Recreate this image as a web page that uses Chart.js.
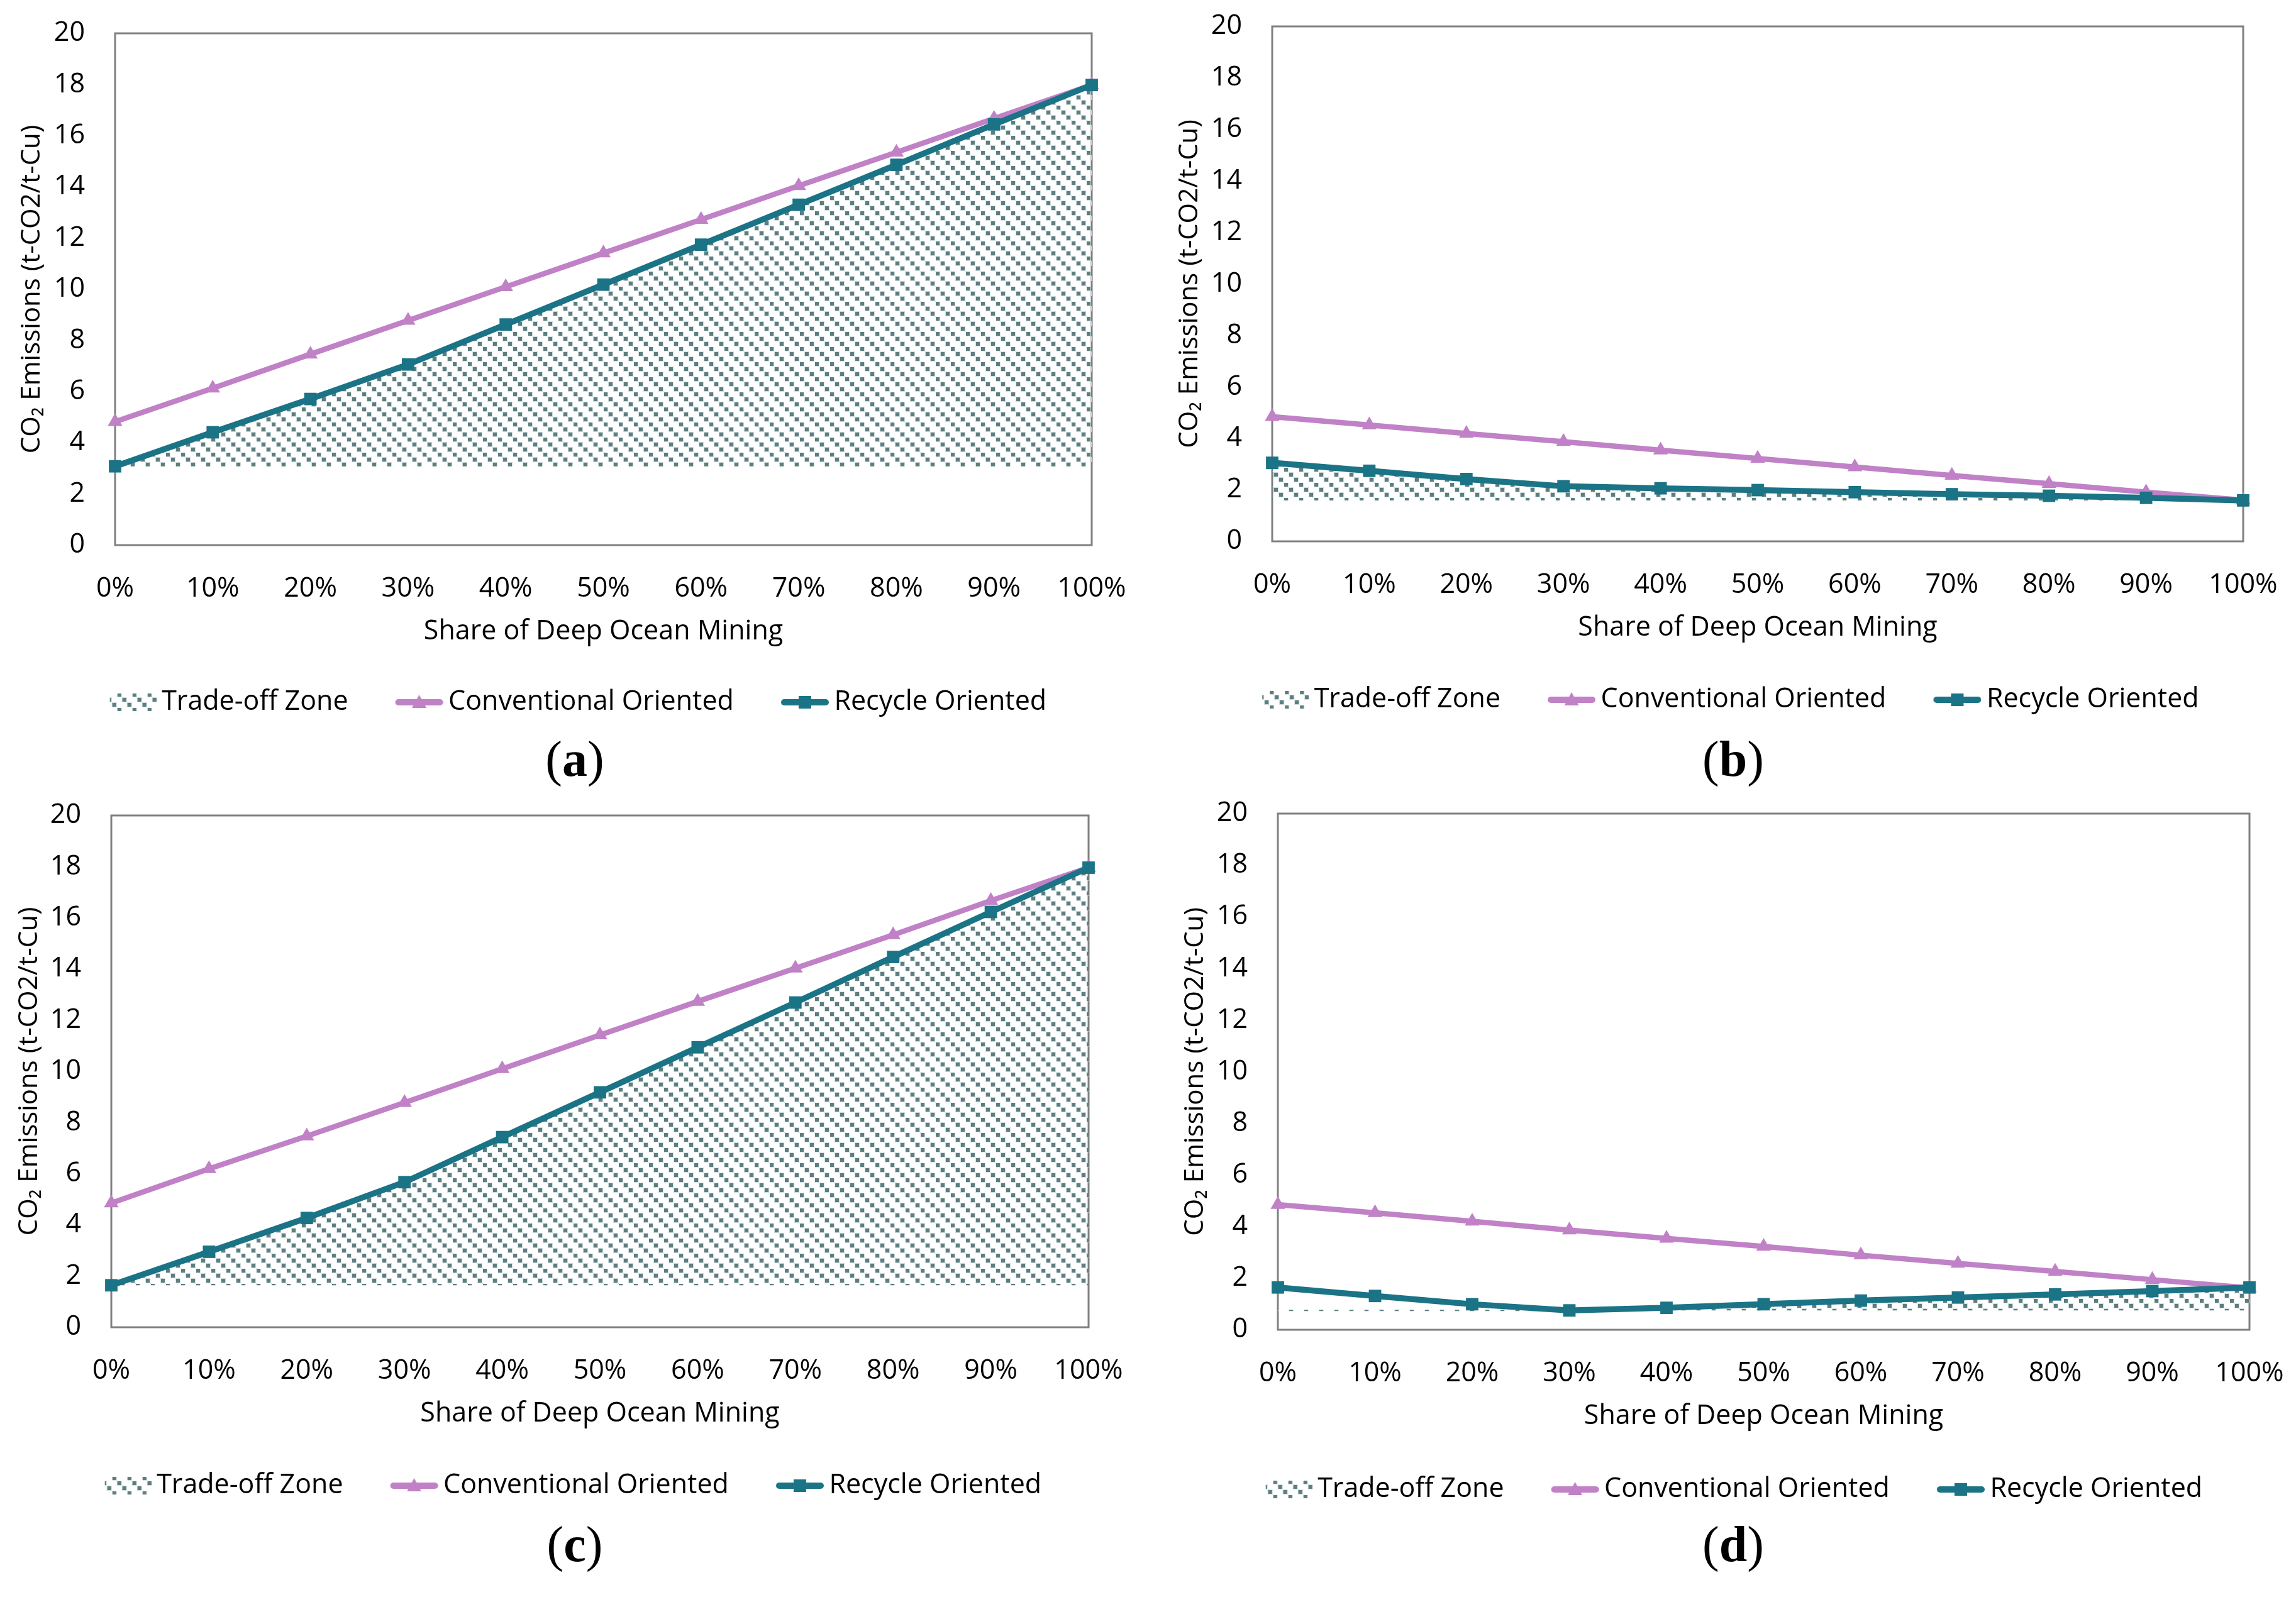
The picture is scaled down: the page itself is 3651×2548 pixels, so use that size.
<!DOCTYPE html>
<html>
<head>
<meta charset="utf-8">
<script src="https://cdn.jsdelivr.net/npm/chart.js@4.4.1/dist/chart.umd.min.js"></script>
<style>
html, body { margin: 0; padding: 0; background: #fff; overflow: hidden; }
body { width: 3651px; height: 2548px; position: relative; }
canvas { position: absolute; }
.caption {
    position: absolute;
    font-family: 'Liberation Serif', 'Times New Roman', serif;
    font-size: 80px;
    line-height: 1;
    color: #000;
    white-space: nowrap;
    transform: translate(-50%, -50%);
}
</style>
</head>
<body>
<canvas id="chartA"></canvas>
<canvas id="chartB"></canvas>
<canvas id="chartC"></canvas>
<canvas id="chartD"></canvas>
<div class="caption" id="capA">(<b>a</b>)</div>
<div class="caption" id="capB">(<b>b</b>)</div>
<div class="caption" id="capC">(<b>c</b>)</div>
<div class="caption" id="capD">(<b>d</b>)</div>
<script>
// x categories
const shareLabels = ['0%', '10%', '20%', '30%', '40%', '50%', '60%', '70%', '80%', '90%', '100%'];

// (a)
const conventionalA = [4.82, 6.13, 7.46, 8.78, 10.09, 11.41, 12.72, 14.04, 15.35, 16.67, 17.98];
const recycleA = [3.08, 4.41, 5.71, 7.06, 8.62, 10.18, 11.74, 13.30, 14.86, 16.44, 17.98];
// (b)
const conventionalB = [4.84, 4.52, 4.19, 3.87, 3.54, 3.22, 2.89, 2.56, 2.24, 1.91, 1.60];
const recycleB = [3.05, 2.74, 2.42, 2.14, 2.06, 1.99, 1.91, 1.83, 1.77, 1.69, 1.59];
// (c)
const conventionalC = [4.85, 6.19, 7.47, 8.78, 10.10, 11.42, 12.73, 14.03, 15.33, 16.67, 17.96];
const recycleC = [1.64, 2.95, 4.27, 5.67, 7.43, 9.18, 10.94, 12.69, 14.47, 16.23, 17.96];
// (d)
const conventionalD = [4.85, 4.53, 4.20, 3.86, 3.54, 3.23, 2.89, 2.57, 2.26, 1.94, 1.62];
const recycleD = [1.64, 1.31, 0.99, 0.75, 0.85, 0.99, 1.13, 1.25, 1.37, 1.50, 1.64];

// trade-off zone: upper edge and flat floor of each panel
const zoneTopA = recycleA;
const zoneTopB = recycleB;
const zoneTopC = recycleC;
const zoneTopD = [0.75, 0.75, 0.75, 0.75, 0.85, 0.99, 1.13, 1.25, 1.37, 1.50, 1.64];
const zoneFloors = [3.08, 1.59, 1.64, 0.75];

const PURPLE = '#c081c6';
const TEAL = '#1b7386';
const HATCH = '#5c7e80';
const HATCH_EDGE = '#cfdbdb';
const TICK_FONT = { family: "'Open Sans', 'Noto Sans', sans-serif", size: 43 };
const TEXT_FONT = { family: "'Open Sans', 'Noto Sans', sans-serif", size: 43 };
const YTITLE_FONT = { family: "'Open Sans', 'Noto Sans', sans-serif", size: 42 };

// where each panel sits on the page (px)
const panels = [
    { id: 'chartA', cap: 'capA', conv: conventionalA, rec: recycleA, zone: zoneTopA, floor: zoneFloors[0],
      canvas: { x: 0, y: 0, w: 1814, h: 1200 }, plot: { l: 183, r: 1736, t: 53, b: 867 },
      yTitleX: 51, xTitleY: 1005, legendY: 1117, capX: 914, capY: 1207 },
    { id: 'chartB', cap: 'capB', conv: conventionalB, rec: recycleB, zone: zoneTopB, floor: zoneFloors[1],
      canvas: { x: 1850, y: 0, w: 1788, h: 1200 }, plot: { l: 2023, r: 3567, t: 42, b: 861 },
      yTitleX: 1892, xTitleY: 999, legendY: 1113, capX: 2756, capY: 1207 },
    { id: 'chartC', cap: 'capC', conv: conventionalC, rec: recycleC, zone: zoneTopC, floor: zoneFloors[2],
      canvas: { x: 0, y: 1250, w: 1802, h: 1250 }, plot: { l: 177, r: 1731, t: 1297, b: 2111 },
      yTitleX: 47, xTitleY: 2249, legendY: 2363, capX: 914, capY: 2456 },
    { id: 'chartD', cap: 'capD', conv: conventionalD, rec: recycleD, zone: zoneTopD, floor: zoneFloors[3],
      canvas: { x: 1866, y: 1250, w: 1774, h: 1250 }, plot: { l: 2032, r: 3577, t: 1294, b: 2115 },
      yTitleX: 1901, xTitleY: 2253, legendY: 2369, capX: 2756, capY: 2456 }
];

function hatchTile() {
    const t = document.createElement('canvas');
    t.width = 24; t.height = 24;
    const g = t.getContext('2d');
    g.fillStyle = HATCH_EDGE;
    for (let i = 0; i < 3; i++) g.fillRect(i * 8 - 1, i * 8 - 1, 8, 8);
    g.fillRect(23, 23, 1, 1);
    g.fillStyle = HATCH;
    for (let i = 0; i < 3; i++) g.fillRect(i * 8, i * 8, 6, 6);
    return t;
}

// legend icons: drawn in the right part of an 86px wide image so they end close to the text
function zoneIcon() {
    const c = document.createElement('canvas');
    c.width = 86; c.height = 30;
    const g = c.getContext('2d');
    g.fillStyle = g.createPattern(hatchTile(), 'repeat');
    g.fillRect(12, 1, 74, 28);
    return c;
}

function lineIcon(color, marker) {
    const c = document.createElement('canvas');
    c.width = 86; c.height = 30;
    const g = c.getContext('2d');
    g.strokeStyle = color;
    g.fillStyle = color;
    g.lineWidth = 10;
    g.lineCap = 'round';
    g.beginPath();
    g.moveTo(15, 15);
    g.lineTo(81, 15);
    g.stroke();
    const cx = 48, cy = 15;
    g.beginPath();
    if (marker === 'triangle') {
        g.moveTo(cx, cy - 12);
        g.lineTo(cx + 11.5, cy + 9);
        g.lineTo(cx - 11.5, cy + 9);
        g.closePath();
    } else {
        g.rect(cx - 10, cy - 10, 20, 20);
    }
    g.fill();
    return c;
}

const frame = {
    id: 'frame',
    beforeDatasetsDraw(chart) {
        const { ctx, chartArea: a } = chart;
        ctx.save();
        ctx.strokeStyle = '#808080';
        ctx.lineWidth = 3;
        ctx.strokeRect(a.left, a.top, a.right - a.left, a.bottom - a.top);
        ctx.restore();
    }
};

const iconZone = zoneIcon();
const iconConv = lineIcon(PURPLE, 'triangle');
const iconRec = lineIcon(TEAL, 'rect');

// invisible tick marks carry the label offset (ticks.padding would also pad the plot top)
function hiddenTicks(len) {
    return { display: true, drawOnChartArea: false, drawTicks: true, tickLength: len, tickColor: 'rgba(0,0,0,0)' };
}

function makePanel(p) {
    const el = document.getElementById(p.id);
    el.width = p.canvas.w;
    el.height = p.canvas.h;
    el.style.left = p.canvas.x + 'px';
    el.style.top = p.canvas.y + 'px';
    el.style.width = p.canvas.w + 'px';
    el.style.height = p.canvas.h + 'px';

    const cap = document.getElementById(p.cap);
    cap.style.left = p.capX + 'px';
    cap.style.top = p.capY + 'px';

    const legendPad = 78;
    const lh = TEXT_FONT.size * 1.2;
    const xAxisH = p.legendY - p.plot.b - legendPad - TEXT_FONT.size / 2;
    const xTitlePad = p.plot.b + xAxisH - lh / 2 - p.xTitleY;
    const yAxisLeft = p.yTitleX - YTITLE_FONT.size * 0.6;
    const yAxisW = p.plot.l - yAxisLeft;
    const rightW = p.canvas.x + p.canvas.w - p.plot.r;
    const wantBottom = p.plot.b - p.canvas.y;

    const ctx = el.getContext('2d');
    const pattern = ctx.createPattern(hatchTile(), 'repeat');

    const chart = new Chart(ctx, {
        type: 'line',
        data: {
            labels: shareLabels,
            datasets: [{
                label: 'Recycle Oriented',
                data: p.rec,
                borderColor: TEAL,
                backgroundColor: TEAL,
                borderWidth: 9.5,
                pointStyle: 'rect',
                pointRadius: 14,
                pointBorderWidth: 0,
                tension: 0,
                fill: false,
                clip: false
            }, {
                label: 'Conventional Oriented',
                data: p.conv,
                borderColor: PURPLE,
                backgroundColor: PURPLE,
                borderWidth: 8.5,
                pointStyle: 'triangle',
                pointRadius: 13.5,
                pointBorderWidth: 0,
                tension: 0,
                fill: false,
                clip: false
            }, {
                label: 'Trade-off Zone',
                data: p.zone,
                borderColor: pattern,
                backgroundColor: pattern,
                borderWidth: 2,
                pointRadius: 0,
                tension: 0,
                fill: { value: p.floor }
            }]
        },
        options: {
            responsive: false,
            animation: false,
            devicePixelRatio: 1,
            layout: {
                padding: {
                    left: yAxisLeft - p.canvas.x,
                    right: 0,
                    top: p.plot.t - p.canvas.y,
                    bottom: p.canvas.h - wantBottom - xAxisH - 130
                }
            },
            plugins: {
                tooltip: { enabled: false },
                legend: {
                    position: 'bottom',
                    onClick: null,
                    labels: {
                        usePointStyle: true,
                        pointStyleWidth: 60,
                        padding: legendPad,
                        color: '#000',
                        font: TEXT_FONT,
                        generateLabels: () => [
                            { text: 'Trade-off Zone', pointStyle: iconZone, fontColor: '#000', hidden: false, lineWidth: 0, datasetIndex: 2 },
                            { text: 'Conventional Oriented', pointStyle: iconConv, fontColor: '#000', hidden: false, lineWidth: 0, datasetIndex: 1 },
                            { text: 'Recycle Oriented', pointStyle: iconRec, fontColor: '#000', hidden: false, lineWidth: 0, datasetIndex: 0 }
                        ]
                    }
                }
            },
            scales: {
                x: {
                    offset: false,
                    grid: hiddenTicks(44),
                    border: { display: false },
                    ticks: { font: TICK_FONT, color: '#000', padding: 0, maxRotation: 0, autoSkip: false },
                    title: {
                        display: true,
                        text: 'Share of Deep Ocean Mining',
                        font: TEXT_FONT,
                        color: '#000',
                        padding: { top: 0, bottom: xTitlePad }
                    },
                    afterFit: s => { s.height = xAxisH; }
                },
                y: {
                    min: 0,
                    max: 20,
                    grid: hiddenTicks(48),
                    border: { display: false },
                    ticks: { stepSize: 2, font: TICK_FONT, color: '#000', padding: 0 },
                    title: {
                        display: true,
                        text: 'CO\u2082 Emissions (t-CO2/t-Cu)',
                        font: YTITLE_FONT,
                        color: '#000',
                        padding: 0
                    },
                    afterFit: s => { s.width = yAxisW; }
                },
                y2: {
                    position: 'right',
                    grid: { display: false, drawTicks: false },
                    border: { display: false },
                    ticks: { display: false },
                    afterFit: s => { s.width = rightW; }
                }
            }
        },
        plugins: [frame]
    });

    // nudge the bottom padding so the plot bottom lands where it should
    const diff = chart.chartArea.bottom - wantBottom;
    if (Math.abs(diff) > 0.5) {
        chart.options.layout.padding.bottom += diff;
        chart.update();
    }
    return chart;
}

panels.forEach(makePanel);
</script>
</body>
</html>
